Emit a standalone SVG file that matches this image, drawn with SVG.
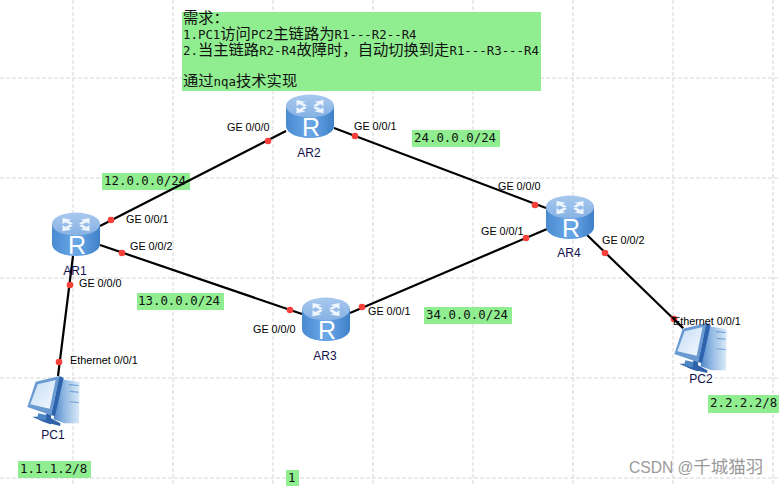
<svg xmlns="http://www.w3.org/2000/svg" width="779" height="486" viewBox="0 0 779 486">
<style>
.grid{stroke:#d6d6d6;stroke-width:1;stroke-dasharray:4 2;fill:none}
.lbl{fill:#84ec84;fill-opacity:.9}
.mono{font-family:"DejaVu Sans Mono","Liberation Mono","Noto Sans CJK SC",monospace;font-size:12.4px;fill:#111}
.cjk{font-family:"DejaVu Sans Mono","Noto Sans CJK SC",monospace;font-size:12.4px;fill:#111}
.cjk .z{font-family:"Noto Sans CJK SC",sans-serif;font-size:15.3px}
.t{font-family:"Liberation Sans",Arial,sans-serif;font-size:10.8px;fill:#000}
.n{font-family:"Liberation Sans",Arial,sans-serif;font-size:12px;fill:#10104a;text-anchor:middle}
.link{stroke:#000;stroke-width:2.2;fill:none}
.dot{fill:#f8403a}
.wm{font-family:"Liberation Sans","Noto Sans CJK SC",sans-serif;font-size:15.6px;fill:#9a9a9a}
.wm .z{font-family:"Noto Sans CJK SC",sans-serif;font-size:17.5px}
.r{font-family:"Liberation Sans",Arial,sans-serif;font-size:25px;fill:#fff;text-anchor:middle}
</style>
<defs>
<linearGradient id="body" x1="0" x2="1" y1="0" y2="0"><stop offset="0" stop-color="#4a8ad0"/><stop offset=".5" stop-color="#6aa8e8"/><stop offset="1" stop-color="#3f80c8"/></linearGradient>
<linearGradient id="top" x1="0" x2="0" y1="0" y2="1"><stop offset="0" stop-color="#a8c8ee"/><stop offset="1" stop-color="#86b2e4"/></linearGradient>
<linearGradient id="scr" x1="0" x2="1" y1="0" y2="1"><stop offset="0" stop-color="#c5dcf4"/><stop offset="1" stop-color="#f4f9fe"/></linearGradient>
<linearGradient id="tw" x1="0" x2="1" y1="0" y2="0"><stop offset="0" stop-color="#4f86c6"/><stop offset=".4" stop-color="#8fb7e2"/><stop offset="1" stop-color="#dcebf8"/></linearGradient>
<g id="router">
<path d="M0 11V31C0 38 11 43 24 43S48 38 48 31V11Z" fill="url(#body)"/>
<ellipse cx="24" cy="11" rx="24" ry="11.5" fill="url(#top)"/>
<path transform="translate(24 11) scale(1.5 1.2) translate(-24 -11)" d="M15 6l6 1.500l-2 1l3 2l-2 1l-3-2l-2 1.500zM33 6l-6 1.500l2 1l-3 2l2 1l3-2l2 1.500zM15 17l6-1.500l-2-1l3-2l-2-1l-3 2l-2-1.500zM33 17l-6-1.500l2-1l-3-2l2-1l3 2l2-1.500z" fill="#eef5fd"/>
<text class="r" x="25" y="41">R</text>
</g>
<g id="pc">
<path d="M92 8L158 18L156 142L112 142L80 130Z" fill="url(#tw)"/>
<path d="M126 24L155 27V30L126 28ZM128 44L155 47V50L128 48ZM128 76L155 78V81L128 79Z" fill="#6d9fd6"/>
<path d="M16 122L50 138L100 150L100 142L64 122Z" fill="#2f62a8"/>
<path d="M34 112L62 118L64 134L30 128Z" fill="#4f86c6"/>
<path d="M58 110L72 112L72 145L56 140Z" fill="#2f62a8"/>
<path d="M1 93L26 17L98 0L72 118Z" fill="#6a9ad2"/>
<path d="M98 0L110 6L84 120L72 118Z" fill="#2d64ad"/>
<path d="M10 85L32 25L86 12L68 98Z" fill="url(#scr)"/>
</g>
</defs>
<g id="grid" class="grid">
<path d="M73 0V486M173 0V486M273 0V486M473 0V486M673 0V486M773 0V486M373 0V486M573 0V486"/>
<path d="M0 78H779M0 178H779M0 278H779M0 378H779M0 478H779"/>
</g>
<g id="labels-bg">
<rect class="lbl" x="182" y="12" width="359" height="79"/>
<rect class="lbl" x="102" y="173" width="88" height="17"/>
<rect class="lbl" x="137" y="293" width="87" height="17"/>
<rect class="lbl" x="412" y="130" width="88" height="17"/>
<rect class="lbl" x="424" y="307" width="88" height="17"/>
<rect class="lbl" x="18" y="461" width="73" height="17"/>
<rect class="lbl" x="286" y="470" width="13" height="16"/>
<rect class="lbl" x="708" y="395" width="71" height="18"/>
</g>
<g id="connectors">
<path class="link" d="M100 226L286 131"/>
<path class="link" d="M100 245L302 314"/>
<path class="link" d="M334 128L546 208"/>
<path class="link" d="M350 313L547 229"/>
<path class="link" d="M73 256L58 376"/>
<path class="link" d="M586 234L683 328"/>
<g class="dot">
<circle cx="111" cy="220" r="3.300"/><circle cx="268" cy="141" r="3.300"/>
<circle cx="122" cy="253" r="3.300"/><circle cx="290" cy="310" r="3.300"/>
<circle cx="355" cy="136" r="3.300"/><circle cx="535" cy="205" r="3.300"/>
<circle cx="362" cy="307" r="3.300"/><circle cx="526" cy="238" r="3.300"/>
<circle cx="70" cy="285" r="3.300"/><circle cx="59" cy="362" r="3.300"/>
<circle cx="605" cy="253" r="3.300"/><circle cx="674" cy="319" r="3.300"/>
</g>
</g>
<g id="AR1"><use href="#router" x="52" y="213"/><text class="n" x="75" y="275">AR1</text></g>
<g id="AR2"><use href="#router" x="286" y="95"/><text class="n" x="309" y="157">AR2</text></g>
<g id="AR3"><use href="#router" x="302" y="298"/><text class="n" x="325" y="360">AR3</text></g>
<g id="AR4"><use href="#router" x="546" y="196"/><text class="n" x="569" y="257">AR4</text></g>
<g id="PC1"><use href="#pc" transform="translate(27 376) scale(.3333)"/><text class="n" x="53" y="439">PC1</text></g>
<g id="PC2"><use href="#pc" transform="translate(674 323) scale(.3333)"/><text class="n" x="701" y="383">PC2</text></g>
<path class="link" d="M672 317L683 328" />
<g id="port-labels">
<text class="t" x="126" y="223">GE 0/0/1</text>
<text class="t" x="130" y="250">GE 0/0/2</text>
<text class="t" x="79" y="287">GE 0/0/0</text>
<text class="t" x="70" y="364">Ethernet 0/0/1</text>
<text class="t" x="227" y="131">GE 0/0/0</text>
<text class="t" x="354" y="130">GE 0/0/1</text>
<text class="t" x="253" y="333">GE 0/0/0</text>
<text class="t" x="368" y="315">GE 0/0/1</text>
<text class="t" x="498" y="190">GE 0/0/0</text>
<text class="t" x="481" y="235">GE 0/0/1</text>
<text class="t" x="602" y="244">GE 0/0/2</text>
<text class="t" x="673" y="325">Ethernet 0/0/1</text>
</g>
<g id="notes">
<text class="cjk" x="183" y="23"><tspan class="z">需求：</tspan></text>
<text class="cjk" x="183" y="39">1.PC1<tspan class="z">访问</tspan>PC2<tspan class="z">主链路为</tspan>R1---R2--R4</text>
<text class="cjk" x="183" y="55">2.<tspan class="z">当主链路</tspan>R2-R4<tspan class="z">故障时，自动切换到走</tspan>R1---R3---R4</text>
<text class="cjk" x="183" y="86"><tspan class="z">通过</tspan>nqa<tspan class="z">技术实现</tspan></text>
<text class="mono" x="104" y="185">12.0.0.0/24</text>
<text class="mono" x="138" y="305">13.0.0.0/24</text>
<text class="mono" x="414" y="142">24.0.0.0/24</text>
<text class="mono" x="426" y="319">34.0.0.0/24</text>
<text class="mono" x="20" y="473">1.1.1.2/8</text>
<text class="mono" x="288" y="482">1</text>
<text class="mono" x="710" y="407">2.2.2.2/8</text>
</g>
<text class="wm" x="629" y="473">CSDN @<tspan class="z">千城猫羽</tspan></text>
</svg>
